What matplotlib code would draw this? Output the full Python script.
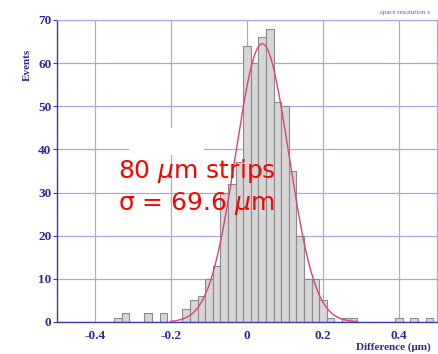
import numpy as np
import matplotlib
matplotlib.use("Agg")
import matplotlib.pyplot as plt
from matplotlib.patches import Rectangle

# Histogram of residuals: bin centres and event counts
bin_centers = [-0.34, -0.32, -0.26, -0.22,
               -0.16, -0.14, -0.12, -0.10, -0.08, -0.06, -0.04, -0.02,
               0.00, 0.02, 0.04, 0.06, 0.08, 0.10, 0.12,
               0.14, 0.16, 0.18, 0.20, 0.22, 0.26, 0.28,
               0.40, 0.44, 0.48]
counts = [1, 2, 2, 2,
          3, 5, 6, 10, 13, 30, 32, 37,
          64, 60, 66, 68, 51, 50, 35,
          20, 10, 10, 5, 1, 1, 1,
          1, 1, 1]
bin_width = 0.02

# Gaussian fit parameters
fit_amplitude = 64.5
fit_mean = 0.040
fit_sigma = 0.0696
fit_range = (-0.20, 0.29)

x_ticks = [-0.4, -0.2, 0.0, 0.2, 0.4]
x_tick_labels = ["-0.4", "-0.2", "0", "0.2", "0.4"]
y_ticks = [0, 10, 20, 30, 40, 50, 60, 70]

W, H = 439, 354
fig = plt.figure(figsize=(W / 100, H / 100), dpi=100)
ax = fig.add_axes([57 / W, 1 - 322 / H, (437 - 57) / W, (322 - 20) / H])

axis_blue = "#3a3aa8"
grid_col = "#a8a8e4"
label_font = dict(family="Liberation Serif", weight="bold", color="#2a2a9a")

ax.set_xlim(-0.5, 0.5)
ax.set_ylim(0, 70)
ax.set_xticks(x_ticks)
ax.set_xticklabels(x_tick_labels)
ax.set_yticks(y_ticks)
for lab in ax.get_xticklabels() + ax.get_yticklabels():
    lab.set_fontfamily("Liberation Serif")
    lab.set_fontweight("bold")
    lab.set_color("#2a2a9a")
    lab.set_fontsize(9.5)

ax.grid(True, color=grid_col, lw=0.9)
ax.set_axisbelow(True)
ax.tick_params(axis="y", which="both", direction="out", length=3, pad=1,
               color=axis_blue, right=True)
ax.tick_params(axis="x", length=0, pad=6)
for side in ("left", "bottom"):
    ax.spines[side].set_color(axis_blue)
    ax.spines[side].set_linewidth(1.0)
for side in ("top", "right"):
    ax.spines[side].set_color(grid_col)
    ax.spines[side].set_linewidth(0.9)

# White panel behind the annotation
ax.add_patch(Rectangle((0.189, 0.553), 0.198, 0.089, transform=ax.transAxes,
                       facecolor="white", edgecolor="none", zorder=1.5))

ax.bar(bin_centers, counts, width=bin_width, color="#d6d6d6",
       edgecolor="#8a8a8a", linewidth=0.8, zorder=2)

xf = np.linspace(fit_range[0], fit_range[1], 400)
yf = fit_amplitude * np.exp(-0.5 * ((xf - fit_mean) / fit_sigma) ** 2)
ax.plot(xf, yf, color="#e0407f", lw=1.0, zorder=3)

ax.text(-0.079, 0.851, "Events", transform=ax.transAxes, rotation=90,
        ha="center", va="center", fontsize=8, **label_font)
ax.text(0.884, -0.083, "Difference (\u03bcm)", transform=ax.transAxes,
        ha="center", va="center", fontsize=8, **label_font)
fig.text(0.923, 0.966, "space resolution x", ha="center", va="center",
         fontsize=5, family="Liberation Serif", color="#8844cc")

plt.rcParams["mathtext.fontset"] = "dejavusans"
ax.text(0.161, 0.477, "80 $\\mu$m strips", transform=ax.transAxes,
        ha="left", va="baseline", fontsize=18, color="#ff0000",
        family="DejaVu Sans", zorder=4)
ax.text(0.161, 0.371, "\u03c3 = 69.6 $\\mu$m", transform=ax.transAxes,
        ha="left", va="baseline", fontsize=18, color="#ff0000",
        family="DejaVu Sans", zorder=4)

fig.savefig("out.png", dpi=100)
